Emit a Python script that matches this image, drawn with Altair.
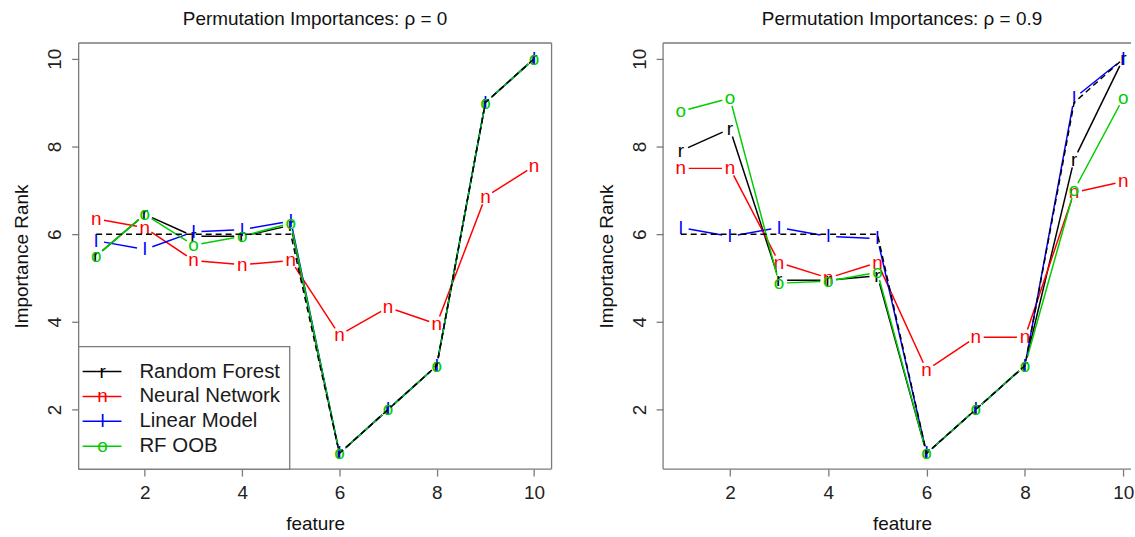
import math
import altair as alt
import pandas as pd

FONT = "Liberation Sans"
GRAY = "#7a7a7a"

features = [1, 2, 3, 4, 5, 6, 7, 8, 9, 10]
series_names = ["Random Forest", "Neural Network", "Linear Model", "RF OOB"]
series_letters = ["r", "n", "l", "o"]
series_colors = ["#000000", "#ff0000", "#0000ff", "#00cd00"]
tick_values = [2, 4, 6, 8, 10]

true_rank = [6, 6, 6, 6, 6, 1, 2, 3, 9, 10]

# rho = 0
rho0_rf = [5.5, 6.45, 5.95, 5.95, 6.2, 1, 2, 3, 9, 10]
rho0_nn = [6.35, 6.15, 5.4, 5.3, 5.4, 3.7, 4.33, 3.95, 6.85, 7.55]
rho0_lm = [5.85, 5.65, 6.05, 6.1, 6.3, 1, 2, 3, 9, 10]
rho0_oob = [5.5, 6.45, 5.75, 5.95, 6.25, 1, 2, 3, 9, 10]

# rho = 0.9
rho9_rf = [7.9, 8.4, 4.95, 4.95, 5.05, 1, 2, 3, 7.7, 10]
rho9_nn = [7.5, 7.5, 5.35, 5.0, 5.35, 2.9, 3.65, 3.65, 6.95, 7.2]
rho9_lm = [6.15, 5.95, 6.15, 5.95, 5.9, 1, 2, 3, 9.1, 10]
rho9_oob = [8.8, 9.1, 4.88, 4.93, 5.13, 1, 2, 3, 7.0, 9.1]

H = 428
FULL_W = 480
YMIN, YMAX = 0.64, 10.36
GAP = 8  # R type="b" gap around each point symbol, in pixels


def gapped_segments(vals, px_x, px_y):
    """Consecutive point pairs, each end pulled back so the line stops short of the symbol."""
    rows = []
    for i in range(len(features) - 1):
        x1, x2 = features[i], features[i + 1]
        y1, y2 = vals[i], vals[i + 1]
        dxp, dyp = (x2 - x1) * px_x, (y2 - y1) * px_y
        L = math.hypot(dxp, dyp)
        if L <= 2 * GAP:
            continue
        f = GAP / L
        rows.append({"feature": x1 + (x2 - x1) * f, "rank": y1 + (y2 - y1) * f,
                     "feature2": x2 - (x2 - x1) * f, "rank2": y2 - (y2 - y1) * f})
    return pd.DataFrame(rows)


def panel(series_vals, title_text, W, xmin, xmax, title_dx, with_legend, closed):
    xs = alt.Scale(domain=[xmin, xmax], nice=False, zero=False)
    ys = alt.Scale(domain=[YMIN, YMAX], nice=False, zero=False)
    px_x = W / (xmax - xmin)
    px_y = H / (YMAX - YMIN)
    xaxis = alt.Axis(values=tick_values, title="feature", titleX=FULL_W / 2 if not closed else W / 2,
                     titleY=55, titleBaseline="middle", titleAlign="center",
                     labelPadding=8, format="d", grid=False, domain=False)
    yaxis = alt.Axis(values=tick_values, title="Importance Rank", titleX=-57, titleY=H / 2,
                     titleBaseline="middle", titleAlign="center", titleAngle=270,
                     labelAngle=270, labelAlign="center", labelBaseline="alphabetic",
                     labelPadding=11, format="d", grid=False, domain=False)
    X = alt.X("feature:Q", scale=xs, axis=xaxis)
    Y = alt.Y("rank:Q", scale=ys, axis=yaxis)

    one = alt.Chart(pd.DataFrame({"k": [0]}))
    layers = []
    # frame
    layers.append(one.mark_rule(color=GRAY, strokeWidth=1.3).encode(
        x=alt.value(0), x2=alt.value(W), y=alt.value(0)))
    layers.append(one.mark_rule(color=GRAY, strokeWidth=1.3).encode(
        x=alt.value(0), x2=alt.value(W), y=alt.value(H)))
    layers.append(one.mark_rule(color=GRAY, strokeWidth=1.3).encode(
        x=alt.value(0), y=alt.value(0), y2=alt.value(H)))
    if closed:
        layers.append(one.mark_rule(color=GRAY, strokeWidth=1.3).encode(
            x=alt.value(W), y=alt.value(0), y2=alt.value(H)))

    for name, letter, color, vals in zip(series_names, series_letters, series_colors, series_vals):
        seg = gapped_segments(vals, px_x, px_y)
        layers.append(alt.Chart(seg).mark_rule(color=color, strokeWidth=1.5).encode(
            x=X, y=Y, x2="feature2:Q", y2="rank2:Q"))
        df = pd.DataFrame({"feature": features, "rank": vals, "series": name})
        layers.append(alt.Chart(df).mark_text(text=letter, color=color, fontSize=19, font=FONT,
                                              baseline="middle", align="center").encode(x=X, y=Y))

    tdf = pd.DataFrame({"feature": features, "rank": true_rank})
    layers.append(alt.Chart(tdf).mark_line(color="#000000", strokeWidth=1.5,
                                           strokeDash=[6, 4]).encode(x=X, y=Y))

    if with_legend:
        layers.append(one.mark_rect(fill="white", stroke=GRAY, strokeWidth=1.3).encode(
            x=alt.value(0), x2=alt.value(212), y=alt.value(305), y2=alt.value(H)))
        rows = [330, 355, 380, 405]
        for name, letter, color, ry in zip(series_names, series_letters, series_colors, rows):
            layers.append(one.mark_rule(color=color, strokeWidth=1.5).encode(
                x=alt.value(4), x2=alt.value(43), y=alt.value(ry)))
            layers.append(one.mark_text(text=letter, color=color, fontSize=19, font=FONT,
                                        baseline="middle", align="center").encode(
                x=alt.value(24), y=alt.value(ry)))
            layers.append(one.mark_text(text=name, color="#1a1a1a", fontSize=20.5, font=FONT,
                                        baseline="middle", align="left").encode(
                x=alt.value(61), y=alt.value(ry)))

    return alt.layer(*layers).properties(
        width=W, height=H,
        title=alt.TitleParams(text=title_text, fontSize=19, fontWeight="normal", font=FONT,
                              color="#111111", offset=13, anchor="middle", dx=title_dx),
    )


left = panel([rho0_rf, rho0_nn, rho0_lm, rho0_oob], "Permutation Importances: ρ = 0",
             475, 0.64, 10.36, 0, True, True)
W_R = 470
right = panel([rho9_rf, rho9_nn, rho9_lm, rho9_oob], "Permutation Importances: ρ = 0.9",
              W_R, 0.64, 0.64 + W_R * 9.72 / FULL_W, (FULL_W - W_R) / 2, False, False)

chart = alt.hconcat(left, right, spacing=43).properties(
    padding={"left": 12, "top": 8, "right": 0, "bottom": 0},
    background="white",
).configure_view(stroke="transparent").configure_axis(
    domain=False, grid=False, tickColor=GRAY, tickSize=7, tickWidth=1.3,
    labelFont=FONT, labelFontSize=19, labelColor="#222222",
    titleFont=FONT, titleFontSize=19, titleFontWeight="normal", titleColor="#111111",
)

chart.save("out.html", embed_options={"renderer": "svg", "actions": False})
